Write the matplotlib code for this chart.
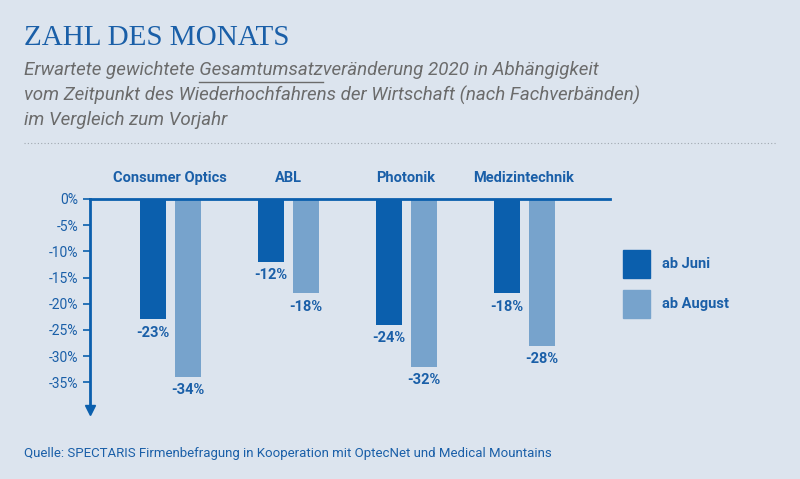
import numpy as np
import matplotlib.pyplot as plt

categories = ['Consumer Optics', 'ABL', 'Photonik', 'Medizintechnik']
ab_juni = [-23, -12, -24, -18]
ab_august = [-34, -18, -32, -28]
yticks = [0, -5, -10, -15, -20, -25, -30, -35]

bg = '#dce4ee'
dark = '#0b5fad'
light = '#77a3cc'
blue_txt = '#1a5fa8'

plt.rcParams['font.family'] = ['Roboto', 'DejaVu Sans']
fig = plt.figure(figsize=(8, 4.79), dpi=100, facecolor=bg)

fig.text(24/800, 1-38/479, 'ZAHL DES MONATS', fontsize=21, color=blue_txt,
         family='Liberation Serif', va='center')
sub = ('Erwartete gewichtete Gesamtumsatzveränderung 2020 in Abhängigkeit\n'
       'vom Zeitpunkt des Wiederhochfahrens der Wirtschaft (nach Fachverbänden)\n'
       'im Vergleich zum Vorjahr')
fig.text(24/800, 1-95/479, sub, fontsize=13.5, color='#6b6b6b', style='italic',
         va='center', linespacing=1.45)

# underline "Gesamtumsatz" by measuring text widths
r = fig.canvas.get_renderer()
def width(s):
    t = fig.text(0, 0, s, fontsize=13.5, style='italic')
    w = t.get_window_extent(r).width
    t.remove()
    return w
x0 = 24 + width('Erwartete gewichtete ')
x1 = 24 + width('Erwartete gewichtete Gesamtumsatz')
fig.add_artist(plt.Line2D([x0/800, x1/800], [1-82/479]*2, color='#6b6b6b', lw=1))

fig.add_artist(plt.Line2D([24/800, 776/800], [1-143/479]*2, color='#a0a8b0',
                          lw=0.8, ls=(0, (1, 2))))

ax = fig.add_axes([90/800, 1-410/479, 520/800, 211/479])
ax.set_facecolor(bg)
x = np.arange(len(categories))
off, w = 17.5/118, 26/118
ax.bar(x - off, ab_juni, w, color=dark)
ax.bar(x + off, ab_august, w, color=light)
ax.set_xlim(-80/118, 440/118)
ax.set_ylim(-40.3, 0)
for s in ['right', 'bottom']:
    ax.spines[s].set_visible(False)
ax.spines['top'].set_color(dark)
ax.spines['top'].set_linewidth(2)
ax.spines['left'].set_color(dark)
ax.spines['left'].set_linewidth(2)
ax.plot(0, -40.3, marker='v', color=dark, markersize=7, transform=ax.get_yaxis_transform(), clip_on=False)
ax.set_xticks([])
ax.set_yticks(yticks)
ax.set_yticklabels([f'{v}%' for v in yticks], fontsize=10, color=blue_txt)
ax.tick_params(axis='y', length=5, color=dark, width=1.2)

for i, c in enumerate(categories):
    ax.text(i, 3.2, c, ha='center', fontsize=10.5, fontweight='bold', color=blue_txt)
    ax.text(i - off, ab_juni[i] - 1.2, f'{ab_juni[i]}%', ha='center', va='top',
            fontsize=10.5, fontweight='bold', color=blue_txt)
    ax.text(i + off, ab_august[i] - 1.2, f'{ab_august[i]}%', ha='center', va='top',
            fontsize=10.5, fontweight='bold', color=blue_txt)

for yy, col, lab in [(250, dark, 'ab Juni'), (290, light, 'ab August')]:
    fig.add_artist(plt.Rectangle((623/800, 1-(yy+28)/479), 27/800, 28/479, color=col))
    fig.text(662/800, 1-(yy+14)/479, lab, fontsize=10.5, fontweight='bold',
             color=blue_txt, va='center')

fig.text(24/800, 1-453/479, 'Quelle: SPECTARIS Firmenbefragung in Kooperation mit OptecNet und Medical Mountains',
         fontsize=9.5, color=blue_txt, va='center')

fig.savefig('out.png', dpi=100, facecolor=bg)
